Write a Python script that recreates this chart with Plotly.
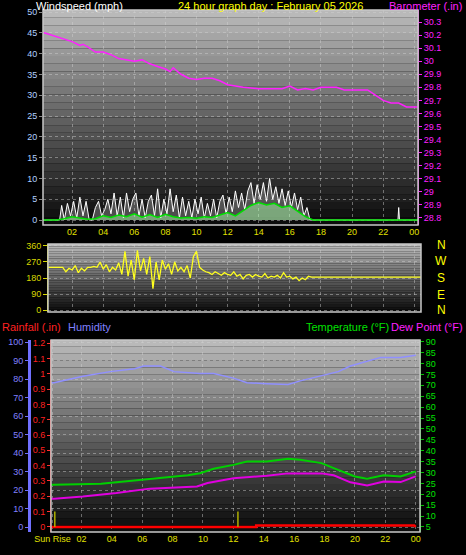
import plotly.graph_objects as go

W, H = 466, 555
# ---------------- data ----------------
baro_h = [0.15,1,2,2.5,2.7,3,3.5,4,4.5,5,6,6.5,7,7.5,8,8.3,8.5,9,9.5,10,10.5,11,11.5,12,12.5,13,14,15,15.5,16,16.5,17,17.5,18,19,19.5,20,21,21.5,22,22.5,23,23.5,24,24.25]
baro_v = [30.22,30.19,30.15,30.12,30.13,30.11,30.07,30.07,30.05,30.02,30.0,30.01,29.98,29.96,29.94,29.92,29.95,29.90,29.87,29.86,29.87,29.87,29.85,29.82,29.81,29.80,29.79,29.79,29.79,29.81,29.78,29.79,29.78,29.80,29.80,29.78,29.78,29.78,29.74,29.70,29.68,29.68,29.65,29.65,29.65]

gust_h = [0.13,1.2,1.33,1.5,1.7,1.9,2.1,2.3,2.5,2.7,2.9,3.1,3.3,3.5,3.7,3.9,4.1,4.3,4.5,4.7,4.9,5.1,5.3,5.5,5.7,5.9,6.1,6.3,6.5,6.7,6.9,7.1,7.3,7.5,7.7,7.9,8.1,8.3,8.5,8.7,8.9,9.1,9.3,9.5,9.7,9.9,10.1,10.3,10.5,10.7,10.9,11.1,11.3,11.5,11.7,11.9,12.1,12.3,12.5,12.7,12.9,13.1,13.3,13.5,13.7,13.9,14.1,14.3,14.5,14.7,14.9,15.1,15.3,15.5,15.7,15.9,16.1,16.3,16.5,16.7,16.9,17.1,17.3,22.95,23.0,23.05,24.25]
gust_v = [0,0,3.5,0,4,1,4.5,0.5,5.5,1,4.5,0,0,3,4.5,1,2.5,5,1.5,6.5,1,5.5,0.5,6.5,2,5,6.5,1,5,0.5,4.5,6,1,7.5,0.5,5,1.5,7.5,2,6,0.5,5.5,1,4.5,0.5,5,1.5,5.5,0.5,4,1,5,0.5,4.5,6,1.5,5.5,2,7,3,6.5,2.5,7,9,4,8.5,5,9,4.5,10,5,8,4,7.5,3.5,7,3,6.5,2.5,5.5,1,3,0,0,3,0,0]

avg_h = [0.13,1.0,1.5,2.0,2.5,3.0,3.5,4.0,4.5,5.0,5.5,6.0,6.5,7.0,7.5,8.0,8.5,9.0,9.5,10.0,10.5,11.0,11.5,12.0,12.5,13.0,13.5,14.0,14.5,15.0,15.5,16.0,16.5,17.0,17.5,24.25]
avg_v = [0,0,0.3,0.8,0.5,0.2,0.3,1.0,0.6,1.2,0.8,1.5,0.7,1.3,0.6,1.4,0.8,0.5,0.6,0.4,0.8,0.6,1.2,1.8,1.0,2.2,3.5,4.2,3.6,4.0,3.0,3.4,2.2,0.8,0,0]

dir_h = [0.45,1.4,1.6,1.8,2.0,2.2,2.4,2.6,2.8,3.0,3.2,3.4,3.6,3.8,4.0,4.2,4.4,4.6,4.8,5.0,5.2,5.4,5.6,5.8,6.0,6.2,6.4,6.6,6.8,7.0,7.2,7.4,7.6,7.8,8.0,8.2,8.4,8.6,8.8,9.0,9.2,9.4,9.6,9.8,10.0,10.2,10.4,10.6,10.8,11.0,11.2,11.4,11.6,11.8,12.0,12.2,12.4,12.6,12.8,13.0,13.2,13.4,13.6,13.8,14.0,14.2,14.4,14.6,14.8,15.0,15.2,15.4,15.6,15.8,16.0,16.2,16.4,16.6,16.8,17.0,17.2,17.4,24.45]
dir_v = [240,240,215,235,225,250,210,235,220,240,240,245,240,270,230,255,215,240,225,265,200,330,190,280,170,335,220,290,200,300,120,270,170,280,230,260,200,270,220,240,215,250,180,300,330,240,225,215,210,200,215,205,195,210,200,195,215,190,200,175,195,200,185,200,190,185,205,180,190,185,195,180,210,185,190,175,185,165,180,170,190,185,185]

hum_h = [0,0.2,2.1,3.9,5.5,6.1,7.2,8.1,9.8,10.7,12.0,12.9,14.2,15.6,16.4,17.8,18.9,19.7,20.8,21.7,23.0,24.0]
hum_v = [78,78,81.5,84,85.6,87,87,84,83,83,80.5,78,77.5,77,79,82,84,87,89.5,91.7,91.7,92.8]

temp_h = [0,0.2,3.3,5.5,7.6,9.0,9.8,10.7,12.0,12.9,14.2,15.6,16.4,17.8,18.6,20.0,20.8,21.9,23.0,24.0]
temp_v = [24.4,24.4,24.8,26.4,27.7,28.7,29.7,31.7,33.5,35,35,36.3,35.8,34.3,32,28.2,27.1,28.7,28.2,30.5]

dew_h = [0,0.2,2.1,4.3,6.5,8.3,9.6,10.3,12.0,14.2,15.6,17.8,18.6,19.7,20.8,21.9,23.0,24.0]
dew_v = [18,18,19,20.6,22.6,23.2,23.6,25.2,27.4,28.5,29.6,29.6,28.7,25.5,24,25.9,25.6,28.2]

rain_h = [0,13.5,13.5,23.9,24.0]
rain_v = [0,0,0.01,0.01,0]

sun_h = [0.25, 12.3]
hour_ticks = [2,4,6,8,10,12,14,16,18,20,22,24]
hour_text = ['02','04','06','08','10','12','14','16','18','20','22','00']
baro_ticks = [28.8,28.9,29.0,29.1,29.2,29.3,29.4,29.5,29.6,29.7,29.8,29.9,30.0,30.1,30.2,30.3]
baro_text = ['28.8','28.9','29','29.1','29.2','29.3','29.4','29.5','29.6','29.7','29.8','29.9','30','30.1','30.2','30.3']
rain_ticks = [0,0.1,0.2,0.3,0.4,0.5,0.6,0.7,0.8,0.9,1.0,1.1,1.2]
rain_text = ['0','0.1','0.2','0.3','0.4','0.5','0.6','0.7','0.8','0.9','1','1.1','1.2']
compass = ['N','W','S','E','N']

# ---------------- helpers ----------------
def px(x): return x / W
def py(y): return 1 - y / H

shapes = []
def gradient(x0, x1, y0, y1, top=185, bot=12, n=28):
    for i in range(n):
        c = int(top + (bot - top) * i / (n - 1))
        shapes.append(dict(type='rect', xref='paper', yref='paper', layer='below',
                           x0=px(x0), x1=px(x1), y0=py(y0 + (y1 - y0) * i / n),
                           y1=py(y0 + (y1 - y0) * (i + 1) / n),
                           fillcolor=f'rgb({c},{c},{c})', line=dict(width=0)))
    shapes.append(dict(type='rect', xref='paper', yref='paper', layer='above',
                       x0=px(x0), x1=px(x1), y0=py(y1), y1=py(y0),
                       line=dict(color='#c8c8c8', width=1.5)))

gradient(43, 418, 10, 225)
gradient(48, 421, 244, 312)
gradient(51, 420, 340, 532)

F = 'Liberation Sans'
grid = dict(showgrid=True, gridcolor='rgba(210,210,210,0.45)', griddash='dot', gridwidth=1, zeroline=False, automargin=False)
na = dict(automargin=False)

fig = go.Figure()
fig.add_trace(go.Scatter(x=gust_h, y=gust_v, mode='lines', line=dict(color='white', width=1),
                         fill='tozeroy', fillcolor='rgba(255,255,255,0.25)', xaxis='x', yaxis='y'))
fig.add_trace(go.Scatter(x=avg_h, y=avg_v, mode='lines', line=dict(color='#00e000', width=1.5),
                         fill='tozeroy', fillcolor='rgba(170,255,170,0.5)', xaxis='x', yaxis='y'))
fig.add_trace(go.Scatter(x=baro_h, y=baro_v, mode='lines', line=dict(color='#ff20ff', width=1.5),
                         xaxis='x', yaxis='y2'))
fig.add_trace(go.Scatter(x=dir_h, y=dir_v, mode='lines', line=dict(color='#ffff20', width=1.3),
                         xaxis='x2', yaxis='y3'))
fig.add_trace(go.Scatter(x=hum_h, y=hum_v, mode='lines', line=dict(color='#9090ff', width=1.5), xaxis='x3', yaxis='y4'))
fig.add_trace(go.Scatter(x=temp_h, y=temp_v, mode='lines', line=dict(color='#00d000', width=2), xaxis='x3', yaxis='y6'))
fig.add_trace(go.Scatter(x=dew_h, y=dew_v, mode='lines', line=dict(color='#e000e0', width=2), xaxis='x3', yaxis='y6'))
fig.add_trace(go.Scatter(x=rain_h, y=rain_v, mode='lines', line=dict(color='#ff0000', width=2.5), xaxis='x3', yaxis='y5'))
sx, sy = [], []
for h in sun_h:
    sx += [h, h, None]; sy += [0, 0.1, None]
fig.add_trace(go.Scatter(x=sx, y=sy, mode='lines', line=dict(color='#b0b000', width=1.5), xaxis='x3', yaxis='y5'))

tf = lambda c: dict(family=F, size=9, color=c)
fig.update_layout(
    width=W, height=H, margin=dict(l=0, r=0, t=0, b=0, autoexpand=False), showlegend=False,
    paper_bgcolor='black', plot_bgcolor='rgba(0,0,0,0)', shapes=shapes,
    xaxis=dict(domain=[px(43), px(418)], range=[0.13, 24.24], anchor='y', tickvals=hour_ticks, ticktext=hour_text,
               tickfont=tf('#e0e000'), ticks='', **grid),
    yaxis=dict(domain=[py(225), py(10)], range=[-1.2, 50.5], tickvals=list(range(0, 51, 5)),
               tickfont=tf('#b0d0ff'), ticks='outside', ticklen=3, tickcolor='#888', **grid),
    yaxis2=dict(overlaying='y', side='right', anchor='x', range=[28.746, 30.392], tickvals=baro_ticks, ticktext=baro_text,
                tickfont=tf('#ff20ff'), showgrid=False, zeroline=False, ticks='outside', ticklen=3, tickcolor='#ff20ff',
                showline=True, linecolor='#ff20ff', **na),
    xaxis2=dict(domain=[px(48), px(421)], range=[0.45, 24.44], anchor='y3', tickvals=hour_ticks,
                showticklabels=False, ticks='', **grid),
    yaxis3=dict(domain=[py(312), py(244)], range=[-11, 371], anchor='x2', tickvals=[0, 90, 180, 270, 360],
                tickfont=tf('#d8d800'), ticks='outside', ticklen=4, tickcolor='#d8d800', showline=True, linecolor='#d8d800', **grid),
    xaxis3=dict(domain=[px(51), px(420)], range=[0, 24.28], anchor='y4', tickvals=[0.1] + hour_ticks, ticktext=['Sun Rise'] + hour_text,
                tickfont=tf('#e0e000'), ticks='', **grid),
    yaxis4=dict(domain=[py(532), py(340)], range=[-2.7, 101.1], anchor='free', position=px(29), tickvals=list(range(0, 101, 10)),
                tickfont=tf('#8080ff'), showline=True, linecolor='#7070ff', linewidth=3, ticks='outside', ticklen=3, tickcolor='#7070ff', **grid),
    yaxis5=dict(overlaying='y4', anchor='free', position=px(50), range=[-0.033, 1.22], tickvals=rain_ticks, ticktext=rain_text,
                tickfont=tf('#ff2020'), showline=True, linecolor='#ff3030', linewidth=1, ticks='outside', ticklen=3, tickcolor='#ff3030',
                showgrid=False, zeroline=False, **na),
    yaxis6=dict(overlaying='y4', anchor='x3', side='right', range=[2.7, 90.8], tickvals=list(range(5, 91, 5)),
                tickfont=tf('#00e000'), showline=True, linecolor='#00c000', ticks='outside', ticklen=3, tickcolor='#00c000',
                showgrid=False, zeroline=False, **na),
)

def txt(x, y, s, c, size=10, anchor='left'):
    fig.add_annotation(x=px(x), y=py(y), xref='paper', yref='paper', text=s, showarrow=False,
                       xanchor=anchor, yanchor='middle', font=dict(family=F, size=size, color=c))

txt(34, 6, 'Windspeed (mph)', 'white', size=11)
txt(270, 6, '24 hour graph day : February 05 2026', '#ffff00', size=11, anchor='center')
txt(464, 6, 'Barometer (.in)', '#ff20ff', size=11, anchor='right')
for s, y in zip(compass, [245, 261, 278, 295, 310]):
    txt(441, y, s, '#ffff00', size=12, anchor='center')
txt(0, 327, 'Rainfall (.in)', '#ff2020', size=11)
txt(66, 327, 'Humidity', '#8080ff', size=11)
txt(391, 327, 'Temperature (°F)', '#00e000', size=11, anchor='right')
txt(465, 327, 'Dew Point (°F)', '#ff20ff', size=11, anchor='right')

fig.write_html('out.html', config={'displayModeBar': False},
               post_script="document.body.style.margin='0';document.body.style.background='black';document.body.style.overflow='hidden';")
